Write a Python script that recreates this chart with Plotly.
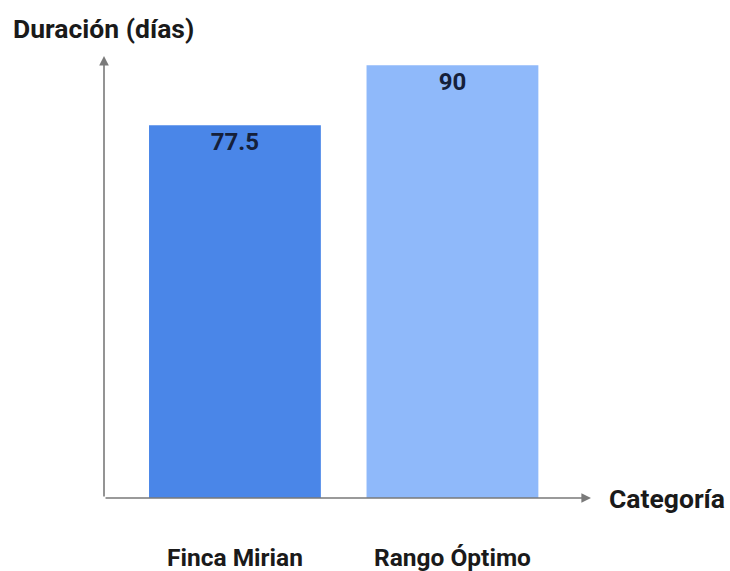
import plotly.graph_objects as go

categories = ["Finca Mirian", "Rango Óptimo"]
values = [77.5, 90]
bar_colors = ["#4a86e8", "#8fb9fa"]
value_labels = ["77.5", "90"]

y_title = "Duración (días)"
x_title = "Categoría"

x_lo, x_hi = -0.602, 1.637
y_hi = 91.9

W, H = 730, 571
ml, mr, mt, mb = 104, 139, 56, 73
pw, ph = W - ml - mr, H - mt - mb

fig = go.Figure(
    go.Bar(
        x=categories,
        y=values,
        marker=dict(color=bar_colors, line=dict(width=0)),
        width=0.79,
        text=value_labels,
        textposition="inside",
        insidetextanchor="end",
        textfont=dict(family="Roboto", size=24, color="#15203a", weight="bold"),
        textangle=0,
    )
)

axis_color = "#7a7a7a"

# y axis drawn as an arrow from the origin upward
fig.add_annotation(
    x=x_lo, y=y_hi, xref="x", yref="y",
    ax=x_lo, ay=0, axref="x", ayref="y",
    text="", showarrow=True,
    arrowhead=2, arrowsize=1.2, arrowwidth=1.6, arrowcolor=axis_color,
)
# x axis drawn as an arrow from the origin to the right
fig.add_annotation(
    x=x_hi, y=0, xref="x", yref="y",
    ax=x_lo, ay=0, axref="x", ayref="y",
    text="", showarrow=True,
    arrowhead=2, arrowsize=1.2, arrowwidth=1.6, arrowcolor=axis_color,
)

title_font = dict(family="Roboto", size=26.5, color="#1a1a1a", weight="bold")
fig.add_annotation(
    x=(11 - ml) / pw, y=(H - mb - 29) / ph, xref="paper", yref="paper",
    text=y_title, showarrow=False, xanchor="left", yanchor="middle",
    font=title_font,
)
fig.add_annotation(
    x=x_hi, y=0, xref="x", yref="y", xshift=16, text=x_title, showarrow=False,
    xanchor="left", yanchor="middle", font=title_font,
)

fig.update_layout(
    width=W, height=H,
    margin=dict(l=ml, r=mr, t=mt, b=mb),
    plot_bgcolor="white", paper_bgcolor="white",
    showlegend=False,
    xaxis=dict(
        range=[x_lo, x_hi], showgrid=False, zeroline=False, showline=False,
        ticks="", ticklabelstandoff=42, automargin=False,
        tickfont=dict(family="Roboto", size=24.5, color="#1a1a1a", weight="bold"),
    ),
    yaxis=dict(
        range=[0, y_hi], showgrid=False, zeroline=False, showline=False,
        showticklabels=False, ticks="", automargin=False,
    ),
)

fig.write_html("out.html")
